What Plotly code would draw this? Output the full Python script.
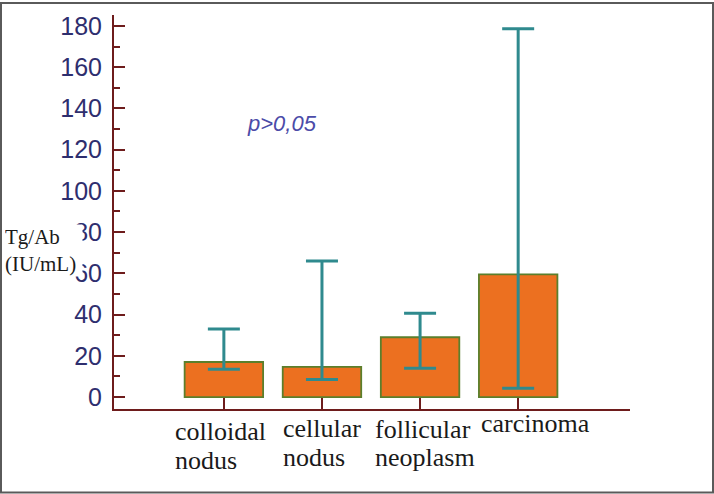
import plotly.graph_objects as go

categories = ["colloidal nodus", "cellular nodus", "follicular neoplasm", "carcinoma"]
label_lines = [["colloidal", "nodus"], ["cellular", "nodus"], ["follicular", "neoplasm"], ["carcinoma"]]
bar_values = [17, 14.6, 29, 59.5]
whisker_high = [33, 66, 40.7, 178.6]
whisker_low = [13.5, 8.5, 14, 4.3]
y_tick_vals = [0, 20, 40, 60, 80, 100, 120, 140, 160, 180]
y_tick_text = ["0", "20", "40", "60", "80", "100", "120", "140", "160", "180"]

err_plus = [h - v for h, v in zip(whisker_high, bar_values)]
err_minus = [v - l for l, v in zip(whisker_low, bar_values)]

AXIS = "#6e1c1c"
W, H = 714, 494
ML, MR, MT, MB = 114, 84, 13, 85
PW, PH = W - ML - MR, H - MT - MB


def px_to_paper_x(px):
    return (px - ML) / PW


def px_to_paper_y(py):
    return (H - MB - py) / PH


fig = go.Figure()
fig.add_trace(go.Bar(
    x=categories, y=bar_values, width=0.8,
    marker=dict(color="#EC7020", line=dict(color="#5b7f2c", width=1.8)),
    error_y=dict(type="data", symmetric=False, array=err_plus, arrayminus=err_minus,
                 color="#2f8a8e", thickness=3, width=16),
    showlegend=False,
))

fig.update_xaxes(
    type="category", range=[-1.12, 4.14], showline=True, linecolor=AXIS, linewidth=2,
    ticks="inside", ticklen=11, tickwidth=2, tickcolor=AXIS, showticklabels=False,
    showgrid=False, zeroline=False,
)
fig.update_yaxes(
    range=[-5.8, 185.3], showline=True, linecolor=AXIS, linewidth=2,
    tickvals=y_tick_vals, ticktext=y_tick_text,
    ticks="inside", ticklen=11, tickwidth=2, tickcolor=AXIS,
    minor=dict(dtick=10, tick0=0, ticks="inside", ticklen=6, tickwidth=2, tickcolor=AXIS, showgrid=False),
    tickfont=dict(family="Liberation Sans", size=25, color="#2e2e6e"),
    ticklabelstandoff=5,
    showgrid=False, zeroline=False,
)

annotations = []
# category labels (left aligned lines)
x_shifts = [-51, -41, -47, -39]
line_centers = [[432, 461], [429, 458], [430, 458], [424]]
for cat, lines, xs, ys in zip(categories, label_lines, x_shifts, line_centers):
    for txt, yc in zip(lines, ys):
        annotations.append(dict(
            x=cat, xref="x", y=px_to_paper_y(yc), yref="paper",
            text=txt, showarrow=False, xanchor="left", yanchor="middle", xshift=xs,
            font=dict(family="Liberation Serif", size=26, color="#1a1a1a"),
        ))

# y-axis title box (covers part of two tick labels, as in the source)
annotations.append(dict(
    x=px_to_paper_x(4), xref="paper", y=px_to_paper_y(250), yref="paper",
    text="Tg/Ab<br>(IU/mL)", showarrow=False, xanchor="left", yanchor="middle",
    align="left", width=77, bgcolor="white", borderpad=0,
    font=dict(family="Liberation Serif", size=21, color="#1a1a1a"),
))

annotations.append(dict(
    x=px_to_paper_x(282), xref="paper", y=px_to_paper_y(122), yref="paper",
    text="<i>p>0,05</i>", showarrow=False, xanchor="center", yanchor="middle",
    font=dict(family="Liberation Sans", size=22, color="#4b4ba8"),
))

fig.update_layout(
    width=W, height=H,
    margin=dict(l=ML, r=MR, t=MT, b=MB),
    plot_bgcolor="white", paper_bgcolor="white",
    annotations=annotations,
    shapes=[dict(type="rect", xref="paper", yref="paper",
                 x0=px_to_paper_x(1), x1=px_to_paper_x(713),
                 y0=px_to_paper_y(493), y1=px_to_paper_y(1),
                 line=dict(color="#5a5a5a", width=2), layer="above")],
)

fig.write_html("out.html", config={"displayModeBar": False},
               post_script="document.body.style.margin='0';")
